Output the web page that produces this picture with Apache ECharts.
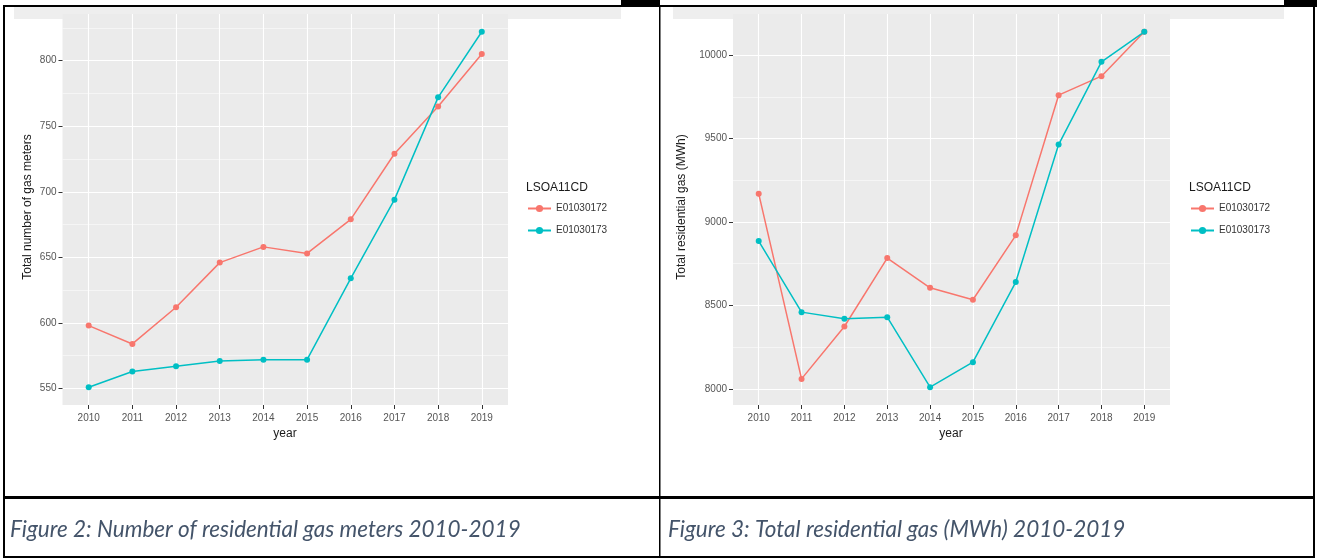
<!DOCTYPE html>
<html>
<head>
<meta charset="utf-8">
<title>Residential gas 2010-2019</title>
<script src="https://cdn.jsdelivr.net/npm/echarts@6/dist/echarts.min.js"></script>
<style>
  html, body { margin: 0; padding: 0; background: #ffffff; }
  #chart { width: 1317px; height: 558px; }
</style>
</head>
<body>
<div id="chart"></div>
<script>
// ---- data ----
const years = [2010, 2011, 2012, 2013, 2014, 2015, 2016, 2017, 2018, 2019];
const areaNames = ['E01030172', 'E01030173'];

// number of residential gas meters per LSOA
const meters172 = [598, 584, 612, 646, 658, 653, 679, 729, 765, 805];
const meters173 = [551, 563, 567, 571, 572, 572, 634, 694, 772, 822];

// total residential gas consumption (MWh) per LSOA
const gas172 = [9170, 8060, 8374, 8784, 8606, 8534, 8920, 9760, 9874, 10140];
const gas173 = [8886, 8460, 8420, 8430, 8010, 8160, 8640, 9464, 9960, 10140];

const meterTicks = [550, 600, 650, 700, 750, 800];
const gasTicks = [8000, 8500, 9000, 9500, 10000];

const palette = ['#F8766D', '#00BFC4'];

// ---- helpers ----
// continuous range padded by 5% of the data span on each side
function padRange(values) {
  const lo = Math.min(...values), hi = Math.max(...values);
  const d = (hi - lo) * 0.05;
  return [lo - d, hi + d];
}
// discrete axis padded by 0.6 of a step on each side
const yearRange = [years[0] - 0.6, years[years.length - 1] + 0.6];

// minor gridline positions halfway between major ticks, within the range
function minorTicks(ticks, range) {
  const step = ticks[1] - ticks[0];
  const out = [];
  for (let v = ticks[0] - step / 2; v <= range[1]; v += step) {
    if (v >= range[0]) out.push(v);
  }
  return out;
}

const pair = (ys) => years.map((x, i) => [x, ys[i]]);

const labelColor = '#555555';
const tickColor = '#333333';

function buildPanel(gridIndex, grid, yValues, yTicks) {
  const range = padRange(yValues);
  const xAxis = {
    type: 'value', gridIndex: gridIndex,
    min: yearRange[0], max: yearRange[1],
    axisLine: { show: false },
    axisTick: { show: true, length: 4, lineStyle: { color: tickColor, width: 1 }, customValues: years },
    axisLabel: { color: labelColor, fontSize: 10, fontFamily: 'Liberation Sans', margin: 8,
                 customValues: years, formatter: (v) => String(v) },
    splitLine: { show: true, lineStyle: { color: '#ffffff', width: 1.1 } }
  };
  const yMajor = {
    type: 'value', gridIndex: gridIndex,
    min: range[0], max: range[1],
    axisLine: { show: false },
    axisTick: { show: true, length: 4, lineStyle: { color: tickColor, width: 1 }, customValues: yTicks },
    axisLabel: { color: labelColor, fontSize: 10, fontFamily: 'Liberation Sans', margin: 6,
                 customValues: yTicks, formatter: (v) => String(v) },
    splitLine: { show: true, lineStyle: { color: '#ffffff', width: 1.1 } }
  };
  const yMinor = {
    type: 'value', gridIndex: gridIndex, position: 'left',
    min: range[0], max: range[1],
    axisLine: { show: false },
    axisTick: { show: false, customValues: minorTicks(yTicks, range) },
    axisLabel: { show: false, customValues: minorTicks(yTicks, range) },
    splitLine: { show: true, lineStyle: { color: '#ffffff', width: 0.55, opacity: 0.9 } }
  };
  return { grid: grid, xAxis: xAxis, yAxes: [yMajor, yMinor] };
}

const panelA = buildPanel(0, { left: 62.5, top: 14, width: 445.5, height: 391 }, meters172.concat(meters173), meterTicks);
const panelB = buildPanel(1, { left: 733, top: 14, width: 437, height: 391 }, gas172.concat(gas173), gasTicks);

function lineSeries(name, data, color, xIdx, yIdx) {
  return {
    type: 'line', name: name, data: data,
    xAxisIndex: xIdx, yAxisIndex: yIdx,
    symbol: 'circle', symbolSize: 6, showSymbol: true,
    itemStyle: { color: color },
    lineStyle: { color: color, width: 1.5 },
    emphasis: { disabled: true },
    z: 3
  };
}

const gridStyle = { show: true, backgroundColor: '#EBEBEB', borderWidth: 0 };

const textStyle = (txt, extra) => Object.assign({
  text: txt, fill: '#1a1a1a', fontFamily: 'Liberation Sans', fontSize: 12
}, extra);

const captionColor = '#44546A';

const legendBase = {
  orient: 'vertical', itemWidth: 23, itemHeight: 9, itemGap: 12, padding: 0,
  data: areaNames, selectedMode: false,
  textStyle: { fontSize: 10, color: '#333333', fontFamily: 'Liberation Sans' }
};

const option = {
  animation: false,
  backgroundColor: '#ffffff',
  grid: [Object.assign({}, gridStyle, panelA.grid), Object.assign({}, gridStyle, panelB.grid)],
  xAxis: [panelA.xAxis, panelB.xAxis],
  yAxis: [panelA.yAxes[0], panelA.yAxes[1], panelB.yAxes[0], panelB.yAxes[1]],
  legend: [
    Object.assign({}, legendBase, { left: 527, top: 203.5 }),
    Object.assign({}, legendBase, { left: 1190, top: 203.5 })
  ],
  series: [
    lineSeries(areaNames[0], pair(meters172), palette[0], 0, 0),
    lineSeries(areaNames[1], pair(meters173), palette[1], 0, 0),
    lineSeries(areaNames[0], pair(gas172), palette[0], 1, 2),
    lineSeries(areaNames[1], pair(gas173), palette[1], 1, 2)
  ],
  graphic: [
    // faint strips along the top of each cell
    { type: 'rect', shape: { x: 14, y: 7, width: 607, height: 12 }, style: { fill: '#EEEEEE' }, z: -5 },
    { type: 'rect', shape: { x: 673, y: 7, width: 611, height: 12 }, style: { fill: '#EEEEEE' }, z: -5 },

    // axis titles, figure 2
    { type: 'text', x: 28, y: 207, rotation: Math.PI / 2,
      style: textStyle('Total number of gas meters', { align: 'center', verticalAlign: 'middle' }) },
    { type: 'text', x: 285, y: 434,
      style: textStyle('year', { align: 'center', verticalAlign: 'middle' }) },
    { type: 'text', x: 526, y: 188,
      style: textStyle('LSOA11CD', { align: 'left', verticalAlign: 'middle' }) },

    // axis titles, figure 3
    { type: 'text', x: 682, y: 207, rotation: Math.PI / 2,
      style: textStyle('Total residential gas (MWh)', { align: 'center', verticalAlign: 'middle' }) },
    { type: 'text', x: 951, y: 434,
      style: textStyle('year', { align: 'center', verticalAlign: 'middle' }) },
    { type: 'text', x: 1189, y: 188,
      style: textStyle('LSOA11CD', { align: 'left', verticalAlign: 'middle' }) },

    // captions
    { type: 'text', x: 10, y: 530,
      style: { text: 'Figure 2: Number of residential gas meters 2010-2019', fill: captionColor,
               fontFamily: 'Lato', fontStyle: 'italic', fontSize: 22.5, align: 'left', verticalAlign: 'middle' } },
    { type: 'text', x: 668, y: 530,
      style: { text: 'Figure 3: Total residential gas (MWh) 2010-2019', fill: captionColor,
               fontFamily: 'Lato', fontStyle: 'italic', fontSize: 22.5, align: 'left', verticalAlign: 'middle' } },

    // table rules
    { type: 'rect', shape: { x: 3, y: 5, width: 1312, height: 2 }, style: { fill: '#000' }, z: 10 },
    { type: 'rect', shape: { x: 621, y: 0, width: 39, height: 7 }, style: { fill: '#000' }, z: 10 },
    { type: 'rect', shape: { x: 1284, y: 0, width: 33, height: 7 }, style: { fill: '#000' }, z: 10 },
    { type: 'rect', shape: { x: 3, y: 5, width: 2, height: 553 }, style: { fill: '#000' }, z: 10 },
    { type: 'rect', shape: { x: 659, y: 5, width: 1.5, height: 553 }, style: { fill: '#000' }, z: 10 },
    { type: 'rect', shape: { x: 1313, y: 5, width: 2, height: 553 }, style: { fill: '#000' }, z: 10 },
    { type: 'rect', shape: { x: 3, y: 496, width: 1312, height: 3 }, style: { fill: '#000' }, z: 10 },
    { type: 'rect', shape: { x: 3, y: 556, width: 1312, height: 2 }, style: { fill: '#000' }, z: 10 }
  ]
};

const chart = echarts.init(document.getElementById('chart'), null, { renderer: 'canvas' });
chart.setOption(option);
</script>
</body>
</html>
